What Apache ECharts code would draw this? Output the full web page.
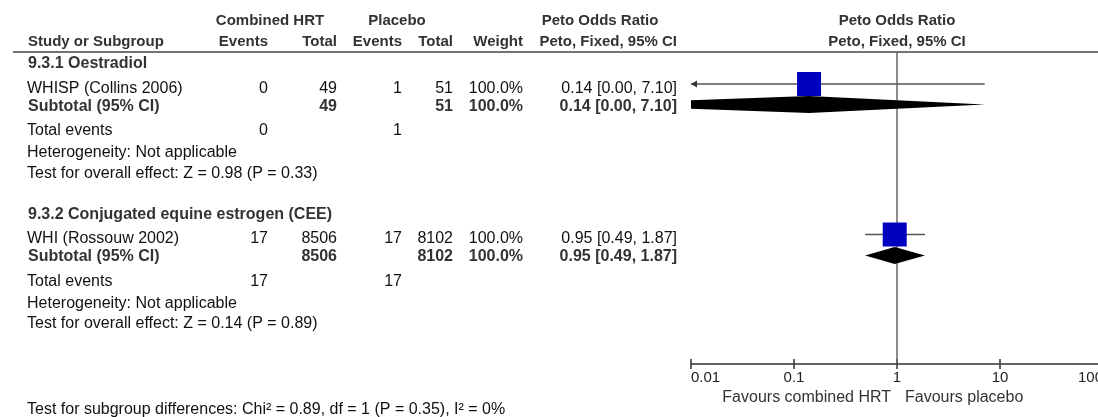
<!DOCTYPE html>
<html><head><meta charset="utf-8">
<script src="https://cdn.jsdelivr.net/npm/echarts@6/dist/echarts.min.js"></script>
<style>html,body{margin:0;padding:0;background:#fff}#c{width:1098px;height:417px}</style>
</head><body><div id="c"></div><script>
// ---------- data ----------
const subgroupNames = ['9.3.1 Oestradiol', '9.3.2 Conjugated equine estrogen (CEE)'];
const studyNames = ['WHISP (Collins 2006)', 'WHI (Rossouw 2002)'];
const hrtEvents = [0, 17];
const hrtTotal = [49, 8506];
const placeboEvents = [1, 17];
const placeboTotal = [51, 8102];
const studyWeight = [100.0, 100.0];
const studyOR = [0.14, 0.95];
const studyLow = [0.0007, 0.49];
const studyHigh = [7.10, 1.87];
const subtotalHrtTotal = [49, 8506];
const subtotalPlaceboTotal = [51, 8102];
const subtotalWeight = [100.0, 100.0];
const subtotalOR = [0.14, 0.95];
const subtotalLow = [0.0007, 0.49];
const subtotalHigh = [7.10, 1.87];
const totalHrtEvents = [0, 17];
const totalPlaceboEvents = [1, 17];
const heterogeneity = ['Not applicable', 'Not applicable'];
const overallZ = [0.98, 0.14];
const overallP = [0.33, 0.89];
const diffChi2 = [0.89];
const diffDf = [1];
const diffP = [0.35];
const diffI2 = [0];
const axisTicks = [0.01, 0.1, 1, 10, 100];
const axisTickLabels = ['0.01', '0.1', '1', '10', '100'];
const favoursLabels = ['Favours combined HRT', 'Favours placebo'];
const referenceValue = [1];

// ---------- layout ----------
const GRID_TOP = 52, GRID_H = 312, PLOT_LEFT = 691, PLOT_W = 412;
const AX_MIN = 0.01, AX_MAX = 100;
const GROUP_Y = [
  {head: 62.5, studyText: 88, studyMark: 84, subText: 106, subMark: 104.5, tot: 130, het: 152, test: 173},
  {head: 213.5, studyText: 238, studyMark: 234.5, subText: 256, subMark: 255.5, tot: 281, het: 302.5, test: 323}
];
const COL = {name: 27, ev1: 268, tot1: 337, ev2: 402, tot2: 453, wt: 523, ci: 677};
const FAM = '"Liberation Sans", Arial, sans-serif';
const F_N = '16px ' + FAM, F_B = 'bold 16px ' + FAM, F_H = 'bold 15px ' + FAM;
const C_N = '#111', C_B = '#333';
const BOX_SIZE = 24, DIAMOND_HALF = 8.5;

function txt(s, x, y, font, fill, align) {
  return {type: 'text', x: x, y: y + 1, silent: true,
    style: {text: String(s), font: font, fill: fill, align: align || 'left', verticalAlign: 'middle'}};
}
function ciText(o, l, h) { return o.toFixed(2) + ' [' + l.toFixed(2) + ', ' + h.toFixed(2) + ']'; }

const graphics = [];
// header
graphics.push(txt('Combined HRT', 270, 20, F_H, C_B, 'center'));
graphics.push(txt('Placebo', 397, 20, F_H, C_B, 'center'));
graphics.push(txt('Peto Odds Ratio', 600, 20, F_H, C_B, 'center'));
graphics.push(txt('Peto Odds Ratio', 897, 20, F_H, C_B, 'center'));
graphics.push(txt('Study or Subgroup', 28, 41, F_H, C_B, 'left'));
graphics.push(txt('Events', COL.ev1, 41, F_H, C_B, 'right'));
graphics.push(txt('Total', COL.tot1, 41, F_H, C_B, 'right'));
graphics.push(txt('Events', COL.ev2, 41, F_H, C_B, 'right'));
graphics.push(txt('Total', COL.tot2, 41, F_H, C_B, 'right'));
graphics.push(txt('Weight', COL.wt, 41, F_H, C_B, 'right'));
graphics.push(txt('Peto, Fixed, 95% CI', COL.ci, 41, F_H, C_B, 'right'));
graphics.push(txt('Peto, Fixed, 95% CI', 897, 41, F_H, C_B, 'center'));
graphics.push({type: 'line', silent: true, shape: {x1: 13, y1: GRID_TOP, x2: 1098, y2: GRID_TOP},
  style: {stroke: '#444', lineWidth: 1.5}});

subgroupNames.forEach(function (g, i) {
  const Y = GROUP_Y[i];
  graphics.push(txt(g, 28, Y.head, F_B, C_B, 'left'));
  graphics.push(txt(studyNames[i], COL.name, Y.studyText, F_N, C_N, 'left'));
  graphics.push(txt(hrtEvents[i], COL.ev1, Y.studyText, F_N, C_N, 'right'));
  graphics.push(txt(hrtTotal[i], COL.tot1, Y.studyText, F_N, C_N, 'right'));
  graphics.push(txt(placeboEvents[i], COL.ev2, Y.studyText, F_N, C_N, 'right'));
  graphics.push(txt(placeboTotal[i], COL.tot2, Y.studyText, F_N, C_N, 'right'));
  graphics.push(txt(studyWeight[i].toFixed(1) + '%', COL.wt, Y.studyText, F_N, C_N, 'right'));
  graphics.push(txt(ciText(studyOR[i], studyLow[i], studyHigh[i]), COL.ci, Y.studyText, F_N, C_N, 'right'));
  graphics.push(txt('Subtotal (95% CI)', 28, Y.subText, F_B, C_B, 'left'));
  graphics.push(txt(subtotalHrtTotal[i], COL.tot1, Y.subText, F_B, C_B, 'right'));
  graphics.push(txt(subtotalPlaceboTotal[i], COL.tot2, Y.subText, F_B, C_B, 'right'));
  graphics.push(txt(subtotalWeight[i].toFixed(1) + '%', COL.wt, Y.subText, F_B, C_B, 'right'));
  graphics.push(txt(ciText(subtotalOR[i], subtotalLow[i], subtotalHigh[i]), COL.ci, Y.subText, F_B, C_B, 'right'));
  graphics.push(txt('Total events', COL.name, Y.tot, F_N, C_N, 'left'));
  graphics.push(txt(totalHrtEvents[i], COL.ev1, Y.tot, F_N, C_N, 'right'));
  graphics.push(txt(totalPlaceboEvents[i], COL.ev2, Y.tot, F_N, C_N, 'right'));
  graphics.push(txt('Heterogeneity: ' + heterogeneity[i], COL.name, Y.het, F_N, C_N, 'left'));
  graphics.push(txt('Test for overall effect: Z = ' + overallZ[i].toFixed(2) + ' (P = ' + overallP[i].toFixed(2) + ')',
    COL.name, Y.test, F_N, C_N, 'left'));
});
graphics.push(txt('Test for subgroup differences: Chi\u00B2 = ' + diffChi2[0].toFixed(2) + ', df = ' + diffDf[0] +
  ' (P = ' + diffP[0].toFixed(2) + '), I\u00B2 = ' + diffI2[0] + '%', COL.name, 409, F_N, C_N, 'left'));
graphics.push(txt(favoursLabels[0], 891, 397, F_N, '#333', 'right'));
graphics.push(txt(favoursLabels[1], 905, 397, F_N, '#333', 'left'));

// ---------- marks ----------
const studyData = studyOR.map(function (o, i) {
  return [o, studyLow[i], studyHigh[i], studyWeight[i], GROUP_Y[i].studyMark - GRID_TOP];
});
const subtotalData = subtotalOR.map(function (o, i) {
  return [o, subtotalLow[i], subtotalHigh[i], GROUP_Y[i].subMark - GRID_TOP];
});

function clipPolyX(pts, xmin, xmax) {
  function clipEdge(poly, inside, inter) {
    const out = [];
    for (let k = 0; k < poly.length; k++) {
      const a = poly[k], b = poly[(k + 1) % poly.length];
      const ia = inside(a), ib = inside(b);
      if (ia) out.push(a);
      if (ia !== ib) out.push(inter(a, b));
    }
    return out;
  }
  function at(x) { return function (a, b) { const t = (x - a[0]) / (b[0] - a[0]); return [x, a[1] + t * (b[1] - a[1])]; }; }
  let p = clipEdge(pts, function (q) { return q[0] >= xmin; }, at(xmin));
  p = clipEdge(p, function (q) { return q[0] <= xmax; }, at(xmax));
  return p;
}

const chart = echarts.init(document.getElementById('c'), null, {renderer: 'canvas'});
function tickLabel(v) {
  for (let i = 0; i < axisTicks.length; i++) {
    if (Math.abs(Math.log10(v) - Math.log10(axisTicks[i])) < 1e-6) return axisTickLabels[i];
  }
  return '';
}
chart.setOption({
  animation: false,
  backgroundColor: '#fff',
  grid: {left: PLOT_LEFT, top: GRID_TOP, width: PLOT_W, height: GRID_H, containLabel: false, outerBoundsMode: 'none'},
  xAxis: [{
    type: 'log', logBase: 10, min: AX_MIN, max: AX_MAX, position: 'bottom', gridIndex: 0,
    axisLine: {show: true, onZero: false, lineStyle: {color: '#333', width: 1.5}},
    axisTick: {show: true, inside: false, length: 5, lineStyle: {color: '#333', width: 1.5}},
    axisLabel: {show: true, color: '#222', fontSize: 15, fontFamily: FAM, margin: 6, formatter: tickLabel,
      alignMinLabel: 'left', alignMaxLabel: 'right', hideOverlap: false},
    splitLine: {show: false}
  }, {
    type: 'log', logBase: 10, min: AX_MIN, max: AX_MAX, position: 'bottom', gridIndex: 0, offset: 0,
    axisLine: {show: false, onZero: false},
    axisTick: {show: true, inside: true, length: 5, lineStyle: {color: '#333', width: 1.5}},
    axisLabel: {show: false},
    splitLine: {show: false}
  }],
  yAxis: {type: 'value', min: 0, max: GRID_H, inverse: true, show: false},
  graphic: graphics,
  series: [{
    type: 'custom', name: 'ref', silent: true, data: referenceValue.map(function (v) { return [v]; }),
    renderItem: function (params, api) {
      const a = api.coord([api.value(0), 0]), b = api.coord([api.value(0), GRID_H]);
      return {type: 'line', shape: {x1: a[0], y1: a[1], x2: b[0], y2: b[1]}, style: {stroke: '#666', lineWidth: 1.5}};
    }
  }, {
    type: 'custom', name: 'subtotal', silent: true, clip: true, data: subtotalData,
    renderItem: function (params, api) {
      const o = api.value(0), l = api.value(1), h = api.value(2), y = api.value(3);
      const c = api.coord([o, y]), pl = api.coord([l, y]), ph = api.coord([h, y]);
      const xmin = api.coord([AX_MIN, y])[0], xmax = api.coord([AX_MAX, y])[0];
      const pts = clipPolyX([[pl[0], c[1]], [c[0], c[1] - DIAMOND_HALF], [ph[0], c[1]], [c[0], c[1] + DIAMOND_HALF]], xmin, xmax);
      return {type: 'polygon', shape: {points: pts}, style: {fill: '#000'}};
    }
  }, {
    type: 'custom', name: 'study', silent: true, data: studyData,
    renderItem: function (params, api) {
      const o = api.value(0), l = api.value(1), h = api.value(2), w = api.value(3), y = api.value(4);
      const c = api.coord([o, y]);
      const pl = api.coord([Math.max(l, AX_MIN), y]), ph = api.coord([Math.min(h, AX_MAX), y]);
      const s = BOX_SIZE * Math.sqrt(w / 100);
      const ch = [];
      ch.push({type: 'line', shape: {x1: pl[0], y1: pl[1], x2: ph[0], y2: ph[1]}, style: {stroke: '#555', lineWidth: 1.5}});
      if (l < AX_MIN) {
        ch.push({type: 'polygon', shape: {points: [[pl[0], pl[1]], [pl[0] + 6, pl[1] - 3.5], [pl[0] + 6, pl[1] + 3.5]]}, style: {fill: '#333'}});
      }
      if (h > AX_MAX) {
        ch.push({type: 'polygon', shape: {points: [[ph[0], ph[1]], [ph[0] - 6, ph[1] - 3.5], [ph[0] - 6, ph[1] + 3.5]]}, style: {fill: '#333'}});
      }
      ch.push({type: 'rect', shape: {x: c[0] - s / 2, y: c[1] - s / 2, width: s, height: s}, style: {fill: '#0000C0'}});
      return {type: 'group', children: ch};
    }
  }]
});
</script></body></html>
